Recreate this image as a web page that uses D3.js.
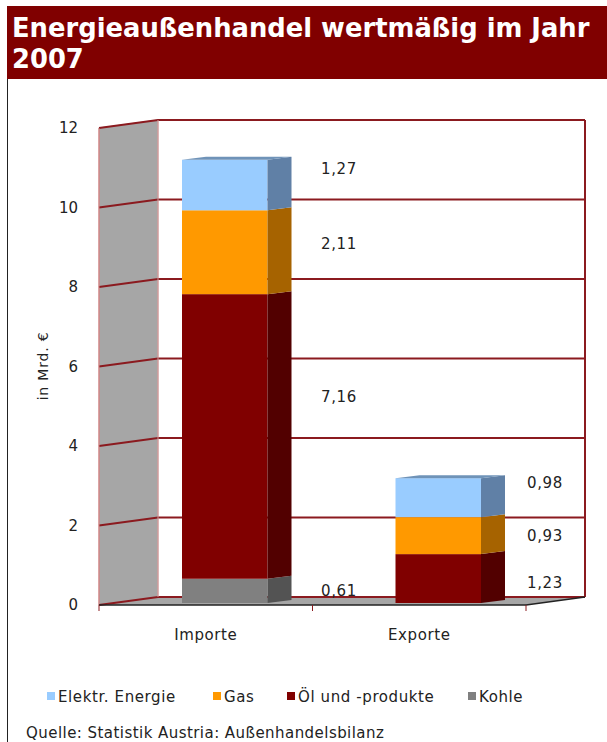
<!DOCTYPE html>
<html><head><meta charset="utf-8">
<script src="https://cdn.jsdelivr.net/npm/d3@7/dist/d3.min.js"></script>
<style>html,body{margin:0;padding:0;background:#fff;overflow:hidden}svg{display:block}text{font-family:"DejaVu Sans",sans-serif}</style>
</head><body><script>
const titleLines = ["Energieaußenhandel wertmäßig im Jahr", "2007"];
const categories = ["Importe", "Exporte"];
const seriesNames = ["Kohle", "Öl und -produkte", "Gas", "Elektr. Energie"];
const kohle = [0.61, 0];
const oel = [7.16, 1.23];
const gas = [2.11, 0.93];
const elektr = [1.27, 0.98];
const yTicks = [0, 2, 4, 6, 8, 10, 12];
const yTitle = "in Mrd. €";
const legendOrder = ["Elektr. Energie", "Gas", "Öl und -produkte", "Kohle"];
const source = "Quelle: Statistik Austria: Außenhandelsbilanz";

const colors = ["#808080", "#800000", "#FF9900", "#99CCFF"];
const sideColors = ["#535353", "#520000", "#A66300", "#6080A6"];
const series = [kohle, oel, gas, elektr];

const W = 607, H = 742, DX = 59, DY = -8, BDX = 24, BDY = -3;
const y = d3.scaleLinear().domain([0, 12]).range([605, 128]);
const x = d3.scaleBand().domain(categories).range([99, 526]);
const barW = 85.5, barShift = 19, baseShift = -2;
const svg = d3.select("body").append("svg").attr("width", W).attr("height", H);

// title band and frame
svg.append("rect").attr("x", 7).attr("y", 6).attr("width", W - 7).attr("height", 73).attr("fill", "#800000");
svg.append("line").attr("x1", 7.5).attr("x2", 7.5).attr("y1", 79).attr("y2", H).attr("stroke", "#222").attr("stroke-width", 1);
svg.selectAll(".title").data(titleLines).join("text").attr("x", 12).attr("y", (d, i) => 37 + i * 31)
  .attr("fill", "#fff").attr("font-size", 25.8).attr("font-weight", "bold").text(d => d);

const poly = pts => pts.map(p => p.join(",")).join(" ");
const x0 = x.range()[0], x1 = x.range()[1];

// walls and floor
svg.append("polygon").attr("points", poly([[x0, y(12)], [x0 + DX, y(12) + DY], [x0 + DX, y(0) + DY], [x0, y(0)]]))
  .attr("fill", "#A6A6A6").attr("stroke", "#d9a3a3").attr("stroke-width", 1);
svg.append("polygon").attr("points", poly([[x0, y(0)], [x0 + DX, y(0) + DY], [x1 + DX, y(0) + DY], [x1, y(0)]]))
  .attr("fill", "#A6A6A6");

// grid
const grid = svg.append("g").attr("fill", "none").attr("stroke", "#8B1A1F").attr("stroke-width", 2);
yTicks.forEach(t => {
  grid.append("polyline").attr("points", poly([[x0, y(t)], [x0 + DX, y(t) + DY], [x1 + DX, y(t) + DY]]));
});
grid.append("line").attr("x1", x1 + DX).attr("x2", x1 + DX).attr("y1", y(12) + DY).attr("y2", y(0) + DY);
svg.append("line").attr("x1", x0 + DX).attr("x2", x0 + DX).attr("y1", y(12) + DY).attr("y2", y(0) + DY).attr("stroke", "#c99").attr("stroke-width", 1);
svg.append("line").attr("x1", x0).attr("x2", x0).attr("y1", y(12)).attr("y2", y(0)).attr("stroke", "#c77").attr("stroke-width", 1);

// bars
categories.forEach((c, ci) => {
  const left = x(c) + x.bandwidth() / 2 - barW / 2 + barShift;
  let acc = 0;
  series.forEach((s, si) => {
    const v = s[ci];
    if (!v) return;
    const top = y(acc + v) + baseShift, bot = y(acc) + baseShift;
    acc += v;
    svg.append("rect").attr("x", left).attr("y", top).attr("width", barW).attr("height", bot - top).attr("fill", colors[si]);
    svg.append("polygon").attr("points", poly([[left + barW, top], [left + barW + BDX, top + BDY], [left + barW + BDX, bot + BDY], [left + barW, bot]]))
      .attr("fill", sideColors[si]);
  });
  const t = y(acc) + baseShift;
  svg.append("polygon").attr("points", poly([[left, t], [left + BDX, t + BDY], [left + barW + BDX, t + BDY], [left + barW, t]])).attr("fill", "#6f93b8");
});

// front floor edge and ticks
svg.append("line").attr("x1", x0).attr("x2", x1).attr("y1", y(0)).attr("y2", y(0)).attr("stroke", "#222").attr("stroke-width", 1.5);
svg.append("line").attr("x1", x1).attr("x2", x1 + DX).attr("y1", y(0)).attr("y2", y(0) + DY).attr("stroke", "#222").attr("stroke-width", 1.5);
[x0, x(categories[1]), x1].forEach(px => svg.append("line").attr("x1", px).attr("x2", px).attr("y1", y(0)).attr("y2", y(0) + 6).attr("stroke", "#8B1A1F").attr("stroke-width", 1));

// axis labels
const fs = 15, ls = 0.6;
svg.selectAll(".yl").data(yTicks).join("text").attr("x", 78).attr("y", d => y(d) + 5).attr("text-anchor", "end").attr("font-size", fs).attr("fill", "#222").text(d => d);
svg.append("text").attr("transform", "translate(48,366) rotate(-90)").attr("text-anchor", "middle").attr("font-size", 14).attr("letter-spacing", 0.8).attr("fill", "#222").text(yTitle);
svg.selectAll(".xl").data(categories).join("text").attr("x", d => x(d) + x.bandwidth() / 2).attr("y", 640).attr("text-anchor", "middle").attr("font-size", fs).attr("letter-spacing", ls).attr("fill", "#222").text(d => d);

// data labels: nudged off the segment midpoints as in the picture
const labelX = [339, 545];
const nudge = [[0, -39, -8, -16], [0, 4, 0, -15]];
categories.forEach((c, ci) => {
  let acc = 0;
  series.forEach((s, si) => {
    const v = s[ci];
    if (!v) return;
    const mid = acc + v / 2; acc += v;
    svg.append("text").attr("x", labelX[ci]).attr("y", y(mid) + baseShift + nudge[ci][si] + 5).attr("text-anchor", "middle")
      .attr("font-size", fs).attr("letter-spacing", ls).attr("fill", "#222").text(d3.format(".2f")(v).replace(".", ","));
  });
});

// legend
const lx = [47, 213, 287, 468];
const lc = d => colors[seriesNames.indexOf(d)];
legendOrder.forEach((d, i) => {
  svg.append("rect").attr("x", lx[i]).attr("y", 692).attr("width", 8).attr("height", 8).attr("fill", lc(d));
  svg.append("text").attr("x", lx[i] + 11).attr("y", 702).attr("font-size", fs).attr("letter-spacing", 0.6).attr("fill", "#222").text(d);
});
svg.append("text").attr("x", 26).attr("y", 738).attr("font-size", 15).attr("letter-spacing", 0.45).attr("fill", "#222").text(source);
</script></body></html>
